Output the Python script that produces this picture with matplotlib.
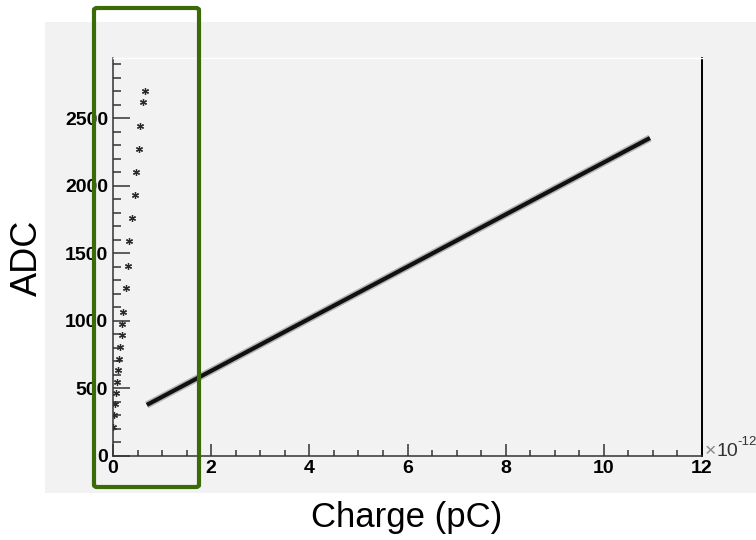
import matplotlib
matplotlib.use("Agg")
import matplotlib.pyplot as plt
from matplotlib.patches import Rectangle, FancyBboxPatch
from matplotlib.ticker import MultipleLocator, FixedLocator

plt.rcParams['font.family'] = ['Liberation Sans', 'DejaVu Sans']

# Low-charge calibration points (charge in units of 1e-12 C, ADC counts)
low_charge = [0.006, 0.03, 0.05, 0.07, 0.08, 0.10, 0.13, 0.15, 0.18, 0.19,
              0.21, 0.26, 0.30, 0.33, 0.38, 0.44, 0.47, 0.52, 0.56, 0.62, 0.65]
low_adc = [217, 304, 383, 464, 551, 637, 718, 810, 896, 975,
           1062, 1242, 1407, 1588, 1761, 1933, 2101, 2274, 2444, 2617, 2699]

# High-range linear response
lin_charge = [0.69, 2.0, 4.0, 6.0, 8.0, 10.0, 10.94]
lin_adc = [378, 630, 1016, 1401, 1787, 2172, 2353]

x_ticks = [0, 2, 4, 6, 8, 10, 12]
y_ticks = [0, 500, 1000, 1500, 2000, 2500]

W, H = 756, 540
fig = plt.figure(figsize=(W / 100, H / 100), dpi=100)
fig.patch.set_facecolor('white')

# grey canvas panel behind the plot
fig.patches.append(Rectangle((45 / W, 1 - 493 / H), (W - 45) / W, (493 - 22) / H,
                             transform=fig.transFigure, facecolor='#f2f2f2',
                             edgecolor='none', zorder=-5))

ax = fig.add_axes([113 / W, 1 - 456 / H, (702 - 113) / W, (456 - 58) / H])
ax.set_zorder(1)
ax.set_facecolor('#f2f2f2')
ax.set_xlim(0, 12)
ax.set_ylim(0, 2945)

for s in ('left', 'bottom'):
    ax.spines[s].set_color('#333333')
    ax.spines[s].set_linewidth(1.1)
ax.spines['right'].set_color('black')
ax.spines['right'].set_linewidth(1.4)
ax.spines['top'].set_color('white')
ax.spines['top'].set_linewidth(1.0)

# linear response band
ax.plot(lin_charge, lin_adc, color='#444444', lw=5.2, alpha=0.35,
        solid_capstyle='butt', zorder=3)
ax.plot(lin_charge, lin_adc, color='#111111', lw=3.0,
        solid_capstyle='butt', zorder=4)

# low-charge points
ax.plot(low_charge, low_adc, linestyle='none', marker=(6, 2, 0), ms=5,
        mec='#2a2a2a', mew=0.9, zorder=5)

ax.xaxis.set_major_locator(FixedLocator(x_ticks))
ax.xaxis.set_minor_locator(MultipleLocator(0.5))
ax.yaxis.set_major_locator(FixedLocator(y_ticks))
ax.yaxis.set_minor_locator(MultipleLocator(100))
ax.set_xticklabels([str(t) for t in x_ticks])
ax.set_yticklabels([str(t) for t in y_ticks])

ax.tick_params(axis='x', which='major', direction='in', length=9, width=1.1,
               color='#333333', pad=3, labelsize=14)
ax.tick_params(axis='x', which='minor', direction='in', length=4.5, width=1.1,
               color='#333333')
ax.tick_params(axis='y', which='major', direction='in', length=12, width=1.1,
               color='#333333', pad=3.5, labelsize=14)
ax.tick_params(axis='y', which='minor', direction='in', length=6, width=1.1,
               color='#333333')
for lab in ax.get_xticklabels() + ax.get_yticklabels():
    lab.set_fontweight('bold')

# exponent of the charge axis
fig.text(705 / W, 1 - 452 / H, '×', color='#888888', fontsize=14,
         ha='left', va='center', zorder=5)
fig.text(716 / W, 1 - 452 / H, '10', color='#333333', fontsize=14,
         ha='left', va='center', zorder=5)
fig.text(737 / W, 1 - 442 / H, '-12', color='#333333', fontsize=9.5,
         ha='left', va='center', zorder=5)

# axis titles
fig.text(27 / W, 1 - 258 / H, 'ADC', rotation=90, fontsize=26,
         ha='center', va='center', zorder=5)
fig.text(407 / W, 1 - 517 / H, 'Charge (pC)', fontsize=25,
         ha='center', va='center', zorder=5)

# highlight box around the low-charge region
fig.patches.append(FancyBboxPatch((94 / W, 1 - 487 / H), (199 - 94) / W, (487 - 8) / H,
                                  boxstyle='round,pad=0,rounding_size=0.004',
                                  transform=fig.transFigure, facecolor='none',
                                  edgecolor='#3b6b06', linewidth=3.0, zorder=10))

fig.savefig('out.png', dpi=100)
